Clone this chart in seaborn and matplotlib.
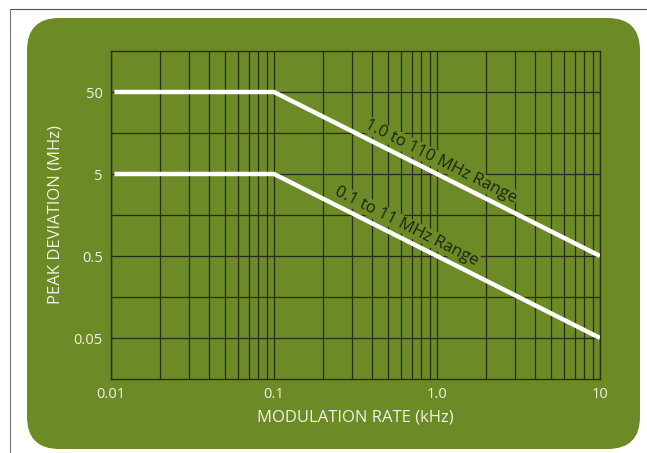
import numpy as np
import pandas as pd
import matplotlib
matplotlib.use("Agg")
import matplotlib.pyplot as plt
import seaborn as sns
from matplotlib.patches import FancyBboxPatch
from matplotlib.lines import Line2D

# data
rate_khz = [0.0105, 0.1, 10]
dev_high = [50, 50, 0.5]     # 1.0 to 110 MHz range
dev_low = [5, 5, 0.05]       # 0.1 to 11 MHz range
x_ticks = [0.01, 0.1, 1, 10]
x_labels = ["0.01", "0.1", "1.0", "10"]
y_ticks = [0.05, 0.5, 5, 50]
y_labels = ["0.05", "0.5", "5", "50"]
y_half = [0.158, 1.58, 15.8]

green = "#6c8a25"
grid_c = "#2b2a1c"
txt_c = "#f2f1e4"

sns.set_style("white")
plt.rcParams['font.family'] = ['Open Sans', 'DejaVu Sans']

fig = plt.figure(figsize=(6.47, 4.53), dpi=100)
fig.patch.set_facecolor("white")

# rounded green panel and the thin page border
W, H = 647, 453
panel = FancyBboxPatch((27 / W, 4 / H), 613 / W, 431 / H,
                       boxstyle="round,pad=0,rounding_size=0.05",
                       transform=fig.transFigure, facecolor=green,
                       edgecolor="none", mutation_aspect=W / H, zorder=-10)
fig.add_artist(panel)
fig.add_artist(Line2D([10 / W, 1], [1 - 9 / H, 1 - 9 / H], color="#555555",
                      lw=0.8, transform=fig.transFigure, zorder=-10))
fig.add_artist(Line2D([10 / W, 10 / W], [0, 1 - 9 / H], color="#777777",
                      lw=0.8, transform=fig.transFigure, zorder=-10))

ax = fig.add_axes([111 / W, 1 - 379 / H, 489 / W, 328 / H])
ax.set_facecolor(green)

df = pd.DataFrame({"rate": rate_khz * 2,
                   "dev": dev_high + dev_low,
                   "range": ["high"] * 3 + ["low"] * 3})
sns.lineplot(data=df, x="rate", y="dev", units="range", estimator=None,
             color="white", lw=3.2, ax=ax, solid_capstyle="butt", zorder=5)

ax.set_xscale("log")
ax.set_yscale("log")
ax.set_xlim(0.01, 10)
ax.set_ylim(0.05 / np.sqrt(10), 50 * np.sqrt(10))

ax.set_xticks(x_ticks)
ax.set_xticklabels(x_labels)
ax.set_yticks(y_ticks)
ax.set_yticklabels(y_labels)
ax.set_yticks(y_half, minor=True)
ax.set_yticklabels([], minor=True)
ax.tick_params(axis="both", which="both", length=0, pad=6,
               labelsize=10.5, labelcolor=txt_c)

ax.grid(True, which="both", axis="x", color=grid_c, lw=0.9)
ax.grid(True, which="both", axis="y", color=grid_c, lw=0.9)
for s in ax.spines.values():
    s.set_visible(True)
    s.set_color(grid_c)
    s.set_linewidth(1.0)

ax.set_xlabel("MODULATION RATE (kHz)", color=txt_c, fontsize=12, labelpad=5)
ax.set_ylabel("PEAK DEVIATION (MHz)", color=txt_c, fontsize=12, labelpad=7)

# rotation of the sloped segment in screen space
p1 = ax.transData.transform((0.1, 50))
p2 = ax.transData.transform((10, 0.5))
ang = np.degrees(np.arctan2(p2[1] - p1[1], p2[0] - p1[0]))

box = dict(facecolor=green, edgecolor="none", pad=0.5)
ax.text(1.06, 50 * 0.1 / 1.06 * 1.5, "1.0 to 110 MHz Range", rotation=ang,
        rotation_mode="anchor", ha="center", va="center", fontsize=12,
        color="#1e2412", zorder=4, bbox=box)
ax.text(0.65, 5 * 0.1 / 0.65 * 1.5, "0.1 to 11 MHz Range", rotation=ang,
        rotation_mode="anchor", ha="center", va="center", fontsize=12,
        color="#1e2412", zorder=4, bbox=box)

fig.savefig("out.png", dpi=100, facecolor=fig.get_facecolor())
